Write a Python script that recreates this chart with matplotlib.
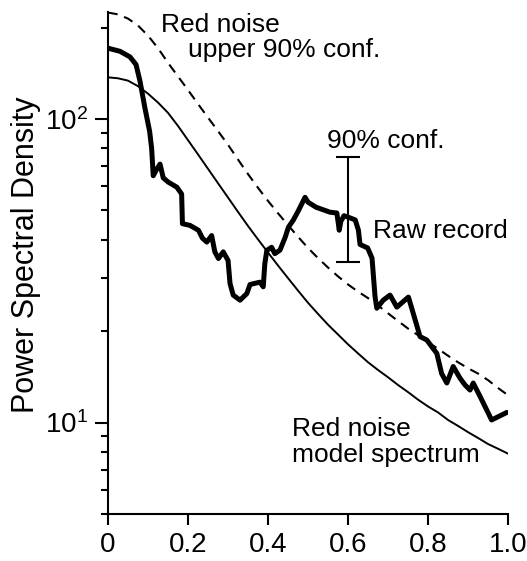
import matplotlib

matplotlib.use("Agg")
import matplotlib.pyplot as plt
from matplotlib.ticker import FixedLocator, LogLocator, NullFormatter

plt.rcParams["font.family"] = ["Liberation Sans", "DejaVu Sans"]
plt.rcParams["mathtext.default"] = "regular"
plt.rcParams["lines.scale_dashes"] = False

# frequency grid for the smooth curves
model_freq = [0.000, 0.025, 0.050, 0.075, 0.100, 0.125, 0.150, 0.175, 0.200, 0.225,
              0.250, 0.275, 0.300, 0.325, 0.350, 0.375, 0.400, 0.425, 0.450, 0.475,
              0.500, 0.525, 0.550, 0.575, 0.600, 0.625, 0.650, 0.675, 0.700, 0.725,
              0.750, 0.775, 0.800, 0.825, 0.850, 0.875, 0.900, 0.925, 0.950, 0.975,
              1.000]
# red noise model spectrum (solid)
model_psd = [137.1, 136.1, 133.7, 128.2, 121.1, 113.2, 104.7, 94.8, 85.1, 76.4,
             68.5, 61.4, 55.1, 49.4, 44.4, 40.1, 36.3, 32.9, 29.9, 27.2,
             24.8, 22.8, 21.0, 19.5, 18.1, 16.9, 15.8, 14.9, 14.1, 13.3,
             12.6, 11.9, 11.3, 10.8, 10.2, 9.75, 9.3, 8.9, 8.5, 8.2,
             7.9]
# red noise upper 90% confidence (dashed)
upper_psd = [224, 221, 214, 203, 188, 171, 153, 138, 124.5, 112,
             101, 91.2, 82.2, 73.5, 65.8, 59.3, 53.7, 48.9, 44.7, 40.9,
             37.6, 34.8, 32.4, 30.3, 28.5, 27.0, 25.7, 24.3, 22.9, 21.6,
             20.4, 19.4, 18.4, 17.5, 16.6, 15.8, 15.1, 14.5, 13.8, 13.0,
             12.3]

# raw record (thick)
raw_freq = [0.000, 0.030, 0.055, 0.070, 0.080, 0.092, 0.104, 0.109, 0.113, 0.121,
            0.130, 0.138, 0.150, 0.172, 0.184, 0.186, 0.205, 0.226, 0.236, 0.247,
            0.259, 0.267, 0.276, 0.288, 0.300, 0.305, 0.313, 0.330, 0.347, 0.355,
            0.380, 0.388, 0.392, 0.397, 0.409, 0.417, 0.430, 0.443, 0.451, 0.463,
            0.476, 0.4925, 0.500, 0.520, 0.555, 0.572, 0.576, 0.578, 0.582, 0.590,
            0.600, 0.618, 0.626, 0.630, 0.649, 0.660, 0.6675, 0.672, 0.688, 0.705,
            0.722, 0.751, 0.763, 0.780, 0.797, 0.809, 0.822, 0.834, 0.847, 0.863,
            0.880, 0.8925, 0.905, 0.913, 0.930, 0.959, 0.997]
raw_psd = [171, 167, 160, 151, 133, 109, 91, 80, 65, 68,
           71, 64, 62, 59.6, 56.6, 45.2, 44.6, 43, 40.5, 39.3,
           41.3, 36.5, 34.7, 36.5, 34.2, 28.7, 26.3, 25.3, 26.6, 28.5,
           29, 28, 33.4, 36.9, 37.8, 36, 37, 40.8, 44, 46.4,
           49.9, 55.2, 53.2, 51.2, 49.3, 49, 45, 43, 46, 48,
           47.5, 46.5, 43, 38.6, 37.6, 34.8, 26, 23.8, 25.3, 26.3,
           24, 25.9, 22.9, 19.2, 18.7, 17.8, 16.9, 14.5, 13.5, 15.3,
           14.0, 13.3, 12.8, 13.5, 12.2, 10.2, 10.8]

# 90% confidence bar
conf_freq = 0.6
conf_low, conf_high = 33.7, 75.0

xticks = [0, 0.2, 0.4, 0.6, 0.8, 1.0]
xtick_labels = ["0", "0.2", "0.4", "0.6", "0.8", "1.0"]

fig = plt.figure(figsize=(5.27, 5.61), dpi=100)
ax = fig.add_axes([0.205, 0.0838, 0.759, 0.8948])

ax.plot(model_freq, model_psd, color="black", lw=1.4)
ax.plot(model_freq, upper_psd, color="black", lw=1.5, dashes=(7, 5))
ax.plot(raw_freq, raw_psd, color="black", lw=3.6,
        solid_joinstyle="round", solid_capstyle="round")

mid = (conf_low * conf_high) ** 0.5
ax.errorbar([conf_freq], [mid], yerr=[[mid - conf_low], [conf_high - mid]],
            fmt="none", ecolor="black", elinewidth=1.5, capsize=8.6, capthick=1.5)

ax.set_yscale("log")
ax.set_xlim(0, 1.0)
ax.set_ylim(5, 225)
ax.yaxis.set_major_locator(FixedLocator([10, 100]))
ax.yaxis.set_minor_locator(LogLocator(base=10, subs=range(2, 10)))
ax.yaxis.set_minor_formatter(NullFormatter())
ax.set_xticks(xticks)
ax.set_xticklabels(xtick_labels)

for side in ["top", "right"]:
    ax.spines[side].set_visible(False)
for side in ["left", "bottom"]:
    ax.spines[side].set_linewidth(1.5)
ax.tick_params(axis="both", which="major", labelsize=20, width=1.5)
ax.tick_params(axis="y", which="major", length=9.4, pad=5)
ax.tick_params(axis="y", which="minor", length=5, width=1.5)
ax.tick_params(axis="x", which="major", length=8, pad=5)

ax.text(0.1325, 194, "Red noise", fontsize=19)
ax.text(0.20, 159.6, "upper 90% conf.", fontsize=19)
ax.text(0.5475, 80.3, "90% conf.", fontsize=19)
ax.text(0.6625, 40.5, "Raw record", fontsize=19)
ax.text(0.46, 9.0, "Red noise", fontsize=19)
ax.text(0.46, 7.4, "model spectrum", fontsize=19)

fig.text(26 / 527, 1 - 255 / 561, "Power Spectral Density", fontsize=22,
         rotation=90, ha="center", va="center")

fig.savefig("out.png", dpi=100)
plt.close(fig)
